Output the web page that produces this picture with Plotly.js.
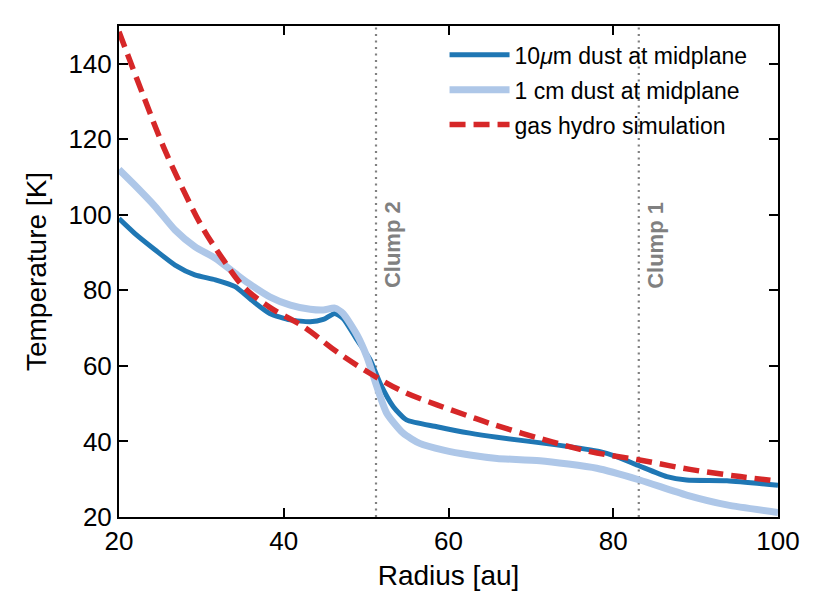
<!DOCTYPE html>
<html>
<head>
<meta charset="utf-8">
<script src="https://cdn.plot.ly/plotly-3.0.1.min.js"></script>
<style>html,body{margin:0;padding:0;background:#fff;}#chart{width:823px;height:614px;}</style>
</head>
<body>
<div id="chart"></div>
<script>
// Dust temperature, 10 micron grains at midplane
const dust10R = [20, 21.9, 24.4, 26.8, 29.2, 31.7, 34.1, 36, 38.3, 40.8, 43.2, 44.8, 46.2, 47.2, 48.9, 50.5, 51.7, 53.3, 54.9, 58.6, 62.6, 65.9, 73.1, 78.4, 80.4, 83.2, 86.5, 88.9, 93.8, 100];
const dust10T = [99.0, 95.1, 90.7, 86.7, 84.1, 82.8, 81.0, 77.6, 73.9, 72.2, 71.7, 72.3, 73.9, 72.6, 66.9, 61.6, 55.4, 49.2, 45.7, 43.9, 42.2, 41.1, 39.1, 37.3, 36.0, 33.5, 30.7, 29.8, 29.6, 28.4];
// Dust temperature, 1 cm grains at midplane
const dust1cmR = [20, 21.9, 24.4, 26.8, 29.2, 31.7, 34.1, 35.7, 38.3, 40.8, 43.2, 44.8, 46.2, 47.2, 48.9, 50.1, 51.3, 52.5, 54.5, 56.5, 59.4, 62.6, 65.9, 71.1, 78, 83.2, 88.9, 93.8, 100];
const dust1cmT = [112, 107.9, 102.2, 96.0, 91.6, 88.5, 84.5, 81.9, 78.3, 76.1, 75.0, 74.8, 75.3, 73.9, 68.2, 62.4, 54.5, 47.5, 42.2, 39.5, 37.7, 36.4, 35.5, 34.9, 32.9, 29.8, 25.8, 23.2, 21.2];
// Gas temperature from hydro simulation
const gasR = [20, 23, 25.4, 27.8, 30.2, 32.7, 35.1, 38.3, 42.4, 46.4, 50.5, 54.5, 58.6, 62.6, 65, 71.1, 77.2, 83.2, 89.3, 95.4, 100];
const gasT = [148.5, 131.3, 118, 106.6, 96.4, 88, 81, 75.5, 70.4, 63.8, 58, 53.2, 49.7, 46.6, 44.8, 40.8, 37.3, 35.1, 32.6, 30.7, 29.5];
// Clump positions
const clumpNames = ["Clump 2", "Clump 1"];
const clumpR = [51.2, 83.1];

const xTicks = [20, 40, 60, 80, 100];
const yTicks = [20, 40, 60, 80, 100, 120, 140];

const FONT = "Liberation Sans, Arial, Helvetica, sans-serif";

const traces = [
  {x: dust10R, y: dust10T, mode: "lines", name: "10<i>μ</i>m dust at midplane",
   line: {color: "#1f77b4", width: 5, shape: "spline", smoothing: 0.6}, legendgroup: "a"},
  {x: dust1cmR, y: dust1cmT, mode: "lines", name: "1 cm dust at midplane",
   line: {color: "#aec7e8", width: 7, shape: "spline", smoothing: 0.6}, legendgroup: "b"},
  {x: gasR, y: gasT, mode: "lines", name: "gas hydro simulation",
   line: {color: "#d62728", width: 5.5, dash: "16px,8px", shape: "spline", smoothing: 1}, legendgroup: "c"}
];

const shapes = clumpR.map(r => ({
  type: "line", xref: "x", yref: "paper", x0: r, x1: r, y0: 0, y1: 1,
  line: {color: "#808080", width: 2.2, dash: "2px,4.5px"}, layer: "below"
}));

const annotations = clumpR.map((r, i) => ({
  x: r, y: 92, xref: "x", yref: "y", text: "<b>" + clumpNames[i] + "</b>",
  textangle: -90, showarrow: false, xanchor: "center", yanchor: "middle", xshift: 16,
  font: {family: FONT, size: 22, color: "#808080"}
}));

const axisCommon = {
  showgrid: false, zeroline: false, showline: true, linecolor: "#000", linewidth: 2,
  mirror: "ticks", ticks: "inside", ticklen: 9, tickwidth: 2, tickcolor: "#000",
  tickfont: {family: FONT, size: 26, color: "#000"}
};

const layout = {
  width: 823, height: 614,
  margin: {l: 119, r: 45, t: 26, b: 97, pad: 0},
  paper_bgcolor: "#fff", plot_bgcolor: "#fff",
  font: {family: FONT, color: "#000"},
  xaxis: Object.assign({}, axisCommon, {
    range: [20, 100], tickvals: xTicks, ticktext: xTicks.map(String),
    title: {text: "Radius [au]", font: {family: FONT, size: 28, color: "#000"}, standoff: 10},
    automargin: false
  }),
  yaxis: Object.assign({}, axisCommon, {
    range: [20, 150], tickvals: yTicks, ticktext: yTicks.map(String),
    title: {text: "Temperature [K]", font: {family: FONT, size: 28, color: "#000"}, standoff: 14},
    automargin: false
  }),
  showlegend: true,
  legend: {
    x: 0.494, y: 0.985, xanchor: "left", yanchor: "top",
    bgcolor: "rgba(0,0,0,0)", borderwidth: 0,
    font: {family: FONT, size: 23, color: "#000"},
    traceorder: "grouped", tracegroupgap: 2, itemwidth: 60
  },
  shapes: shapes,
  annotations: annotations
};

Plotly.newPlot("chart", traces, layout, {displayModeBar: false, staticPlot: true});
</script>
</body>
</html>
